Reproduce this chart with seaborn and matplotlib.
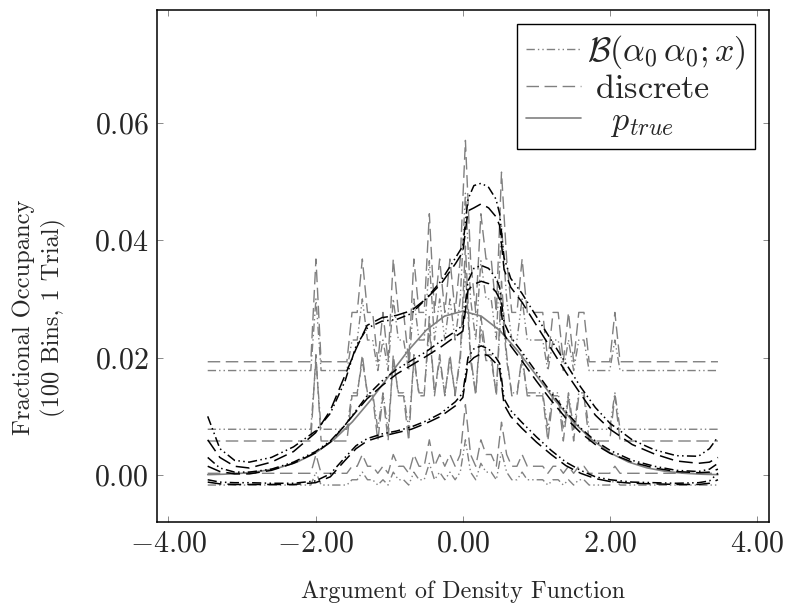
import numpy as np
import pandas as pd
import matplotlib
matplotlib.use("Agg")
import matplotlib.pyplot as plt
import seaborn as sns
from matplotlib.lines import Line2D
from matplotlib.ticker import FixedLocator, FixedFormatter

# ---------------- data ----------------
# 100 histogram bin centres (-3.465 ... 3.465)
bin_x = [round(-3.465 + 0.07 * i, 3) for i in range(100)]

counts = [0, 0, 0, 0, 0, 0, 0, 0, 0, 0,
          0, 0, 0, 0, 0, 0, 0, 0, 0, 0,
          0, 2, 0, 0, 0, 0, 0, 0, 1, 1,
          2, 1, 1, 0, 1, 0, 2, 1, 1, 0,
          2, 1, 1, 3, 1, 2, 1, 2, 1, 2,
          5, 2, 1, 3, 2, 2, 1, 4, 2, 1,
          1, 2, 1, 1, 1, 1, 0, 1, 1, 0,
          1, 0, 1, 1, 0, 0, 0, 0, 0, 1,
          0, 0, 0, 0, 0, 0, 0, 0, 0, 0,
          0, 0, 0, 0, 0, 0, 0, 0, 0, 0]

# fractional occupancy levels for a bin holding 0..5 counts
disc_upper = [0.0193, 0.0277, 0.0368, 0.0445, 0.0516, 0.0570]
disc_mid   = [0.0058, 0.0135, 0.0205, 0.0270, 0.0330, 0.0390]
disc_lower = [0.0003, 0.0015, 0.0035, 0.0060, 0.0090, 0.0120]
beta_upper = [0.0178, 0.0230, 0.0300, 0.0365, 0.0425, 0.0480]
beta_mid   = [0.0078, 0.0140, 0.0195, 0.0250, 0.0300, 0.0350]
beta_lower = [-0.0017, -0.0008, 0.0005, 0.0020, 0.0040, 0.0060]

# smooth (black) estimates
smooth_x = [-3.465, -3.3, -3.1, -2.9, -2.6, -2.3, -2.0, -1.8, -1.6, -1.45,
            -1.3, -1.1, -0.9, -0.7, -0.5, -0.3, -0.1, 0.0, 0.07, 0.15,
            0.25, 0.35, 0.45, 0.5, 0.56, 0.65, 0.8, 1.0, 1.2, 1.4,
            1.6, 1.8, 2.0, 2.3, 2.6, 2.9, 3.2, 3.35, 3.465]
upper_dd = [0.0100, 0.0045, 0.0025, 0.0022, 0.0030, 0.0048, 0.0075, 0.0105, 0.0160, 0.0220,
            0.0250, 0.0262, 0.0265, 0.0275, 0.0300, 0.0330, 0.0370, 0.0390, 0.0470, 0.0493,
            0.0497, 0.0490, 0.0470, 0.0445, 0.0370, 0.0335, 0.0310, 0.0270, 0.0230, 0.0190,
            0.0150, 0.0115, 0.0088, 0.0060, 0.0043, 0.0033, 0.0032, 0.0045, 0.0065]
upper_da = [0.0060, 0.0030, 0.0015, 0.0012, 0.0022, 0.0040, 0.0072, 0.0110, 0.0170, 0.0215,
            0.0255, 0.0268, 0.0272, 0.0280, 0.0300, 0.0325, 0.0360, 0.0380, 0.0450, 0.0455,
            0.0462, 0.0455, 0.0440, 0.0425, 0.0350, 0.0320, 0.0295, 0.0255, 0.0215, 0.0175,
            0.0138, 0.0102, 0.0078, 0.0052, 0.0036, 0.0024, 0.0020, 0.0022, 0.0030]
mid_dd   = [0.0030, 0.0012, 0.0005, 0.0005, 0.0010, 0.0022, 0.0040, 0.0058, 0.0085, 0.0110,
            0.0135, 0.0160, 0.0180, 0.0195, 0.0210, 0.0228, 0.0245, 0.0255, 0.0330, 0.0352,
            0.0357, 0.0352, 0.0335, 0.0320, 0.0260, 0.0235, 0.0210, 0.0175, 0.0140, 0.0108,
            0.0080, 0.0058, 0.0042, 0.0025, 0.0015, 0.0008, 0.0006, 0.0010, 0.0020]
mid_da   = [0.0015, 0.0006, 0.0002, 0.0002, 0.0008, 0.0020, 0.0038, 0.0056, 0.0085, 0.0108,
            0.0130, 0.0152, 0.0172, 0.0187, 0.0202, 0.0218, 0.0236, 0.0245, 0.0315, 0.0325,
            0.0330, 0.0326, 0.0312, 0.0300, 0.0240, 0.0220, 0.0195, 0.0160, 0.0127, 0.0097,
            0.0072, 0.0052, 0.0037, 0.0022, 0.0012, 0.0006, 0.0004, 0.0005, 0.0010]
lower_dd = [-0.0008, -0.0012, -0.0013, -0.0013, -0.0014, -0.0014, -0.0010, 0.0002, 0.0030, 0.0050,
            0.0062, 0.0070, 0.0075, 0.0082, 0.0092, 0.0105, 0.0125, 0.0140, 0.0200, 0.0215,
            0.0220, 0.0215, 0.0200, 0.0190, 0.0130, 0.0110, 0.0090, 0.0065, 0.0042, 0.0022,
            0.0008, -0.0003, -0.0008, -0.0012, -0.0013, -0.0014, -0.0013, -0.0010, 0.0003]
lower_da = [-0.0012, -0.0015, -0.0016, -0.0016, -0.0016, -0.0016, -0.0013, -0.0003, 0.0025, 0.0045,
            0.0058, 0.0066, 0.0072, 0.0078, 0.0088, 0.0100, 0.0118, 0.0132, 0.0190, 0.0200,
            0.0207, 0.0203, 0.0190, 0.0180, 0.0120, 0.0100, 0.0080, 0.0056, 0.0035, 0.0016,
            0.0003, -0.0006, -0.0011, -0.0014, -0.0015, -0.0016, -0.0016, -0.0014, -0.0008]

# true density (fraction per bin)
true_x = [-3.465, -3.25, -3.0, -2.75, -2.5, -2.25, -2.0, -1.75, -1.5, -1.25, -1.0, -0.75, -0.5,
          -0.25, 0.0, 0.25, 0.5, 0.75, 1.0, 1.25, 1.5, 1.75, 2.0, 2.25, 2.5, 2.75, 3.0, 3.25, 3.465]
true_y = [0.000069, 0.000142, 0.000310, 0.000637, 0.001227, 0.002222, 0.003779, 0.006040,
          0.009066, 0.012785, 0.016938, 0.021080, 0.024645, 0.027067, 0.027926, 0.027067,
          0.024645, 0.021080, 0.016938, 0.012785, 0.009066, 0.006040, 0.003779, 0.002222,
          0.001227, 0.000637, 0.000310, 0.000142, 0.000069]

x_ticks = [-4, -2, 0, 2, 4]
x_tick_labels = ["$-4.00$", "$-2.00$", "$0.00$", "$2.00$", "$4.00$"]
y_ticks = [0.0, 0.02, 0.04, 0.06]
y_tick_labels = ["$0.00$", "$0.02$", "$0.04$", "$0.06$"]

# ---------------- style ----------------
sns.set_style("white")
plt.rcParams["font.family"] = ["serif"]
plt.rcParams["font.serif"] = ["cmr10", "DejaVu Serif"]
plt.rcParams["mathtext.fontset"] = "cm"
plt.rcParams["axes.formatter.use_mathtext"] = True

GRAY = "#808080"
DASHED = (0, (9, 4))
DASHDOTDOT = (0, (6, 2.2, 1, 2.2, 1, 2.2))

fig = plt.figure(figsize=(7.87, 6.08), dpi=100)
ax = fig.add_axes([0.1991, 0.1414, 0.778, 0.8421])

def levels(table):
    return [table[k] for k in counts]

gray_series = [
    (disc_upper, DASHED), (disc_mid, DASHED), (disc_lower, DASHED),
    (beta_upper, DASHDOTDOT), (beta_mid, DASHDOTDOT), (beta_lower, DASHDOTDOT),
]
for table, ls in gray_series:
    df = pd.DataFrame({"x": bin_x, "y": levels(table)})
    sns.lineplot(data=df, x="x", y="y", ax=ax, color=GRAY, lw=1.0,
                 linestyle=ls, estimator=None, sort=False)

sns.lineplot(x=true_x, y=true_y, ax=ax, color=GRAY, lw=1.2,
             estimator=None, sort=False)

black_series = [
    (upper_dd, DASHDOTDOT), (upper_da, DASHED),
    (mid_dd, DASHDOTDOT), (mid_da, DASHED),
    (lower_dd, DASHDOTDOT), (lower_da, DASHED),
]
for vals, ls in black_series:
    sns.lineplot(x=smooth_x, y=vals, ax=ax, color="black", lw=1.1,
                 linestyle=ls, estimator=None, sort=False)

ax.set_xlim(-4.158, 4.158)
ax.set_ylim(-0.0080, 0.0792)

ax.xaxis.set_major_locator(FixedLocator(x_ticks))
ax.xaxis.set_major_formatter(FixedFormatter(x_tick_labels))
ax.yaxis.set_major_locator(FixedLocator(y_ticks))
ax.yaxis.set_major_formatter(FixedFormatter(y_tick_labels))
ax.tick_params(axis="both", which="major", direction="in", length=4.5, width=0.7,
               color="#8a8a8a", labelsize=21.5, pad=6,
               top=True, right=True, bottom=True, left=True)

for sp in ax.spines.values():
    sp.set_color("black")
    sp.set_linewidth(1.1)

ax.set_xlabel("Argument of Density Function", fontsize=17.3, labelpad=16)
ax.set_ylabel("Fractional Occupancy\n(100 Bins, 1 Trial)", fontsize=17.6,
              linespacing=1.3)
ax.yaxis.set_label_coords(-0.148, 0.40)

handles = [
    Line2D([], [], color=GRAY, lw=1.0, linestyle=DASHDOTDOT),
    Line2D([], [], color=GRAY, lw=1.0, linestyle=DASHED),
    Line2D([], [], color=GRAY, lw=1.2),
]
labels = [r"$\mathcal{B}(\alpha_0\,\alpha_0;x)$", r"$\;$discrete", r"$\;\;\;p_{true}$"]
leg = ax.legend(handles, labels, loc="upper right", fontsize=24.5, frameon=True,
                fancybox=False, edgecolor="black", framealpha=1,
                handlelength=1.6, handletextpad=0.18, labelspacing=0.08,
                borderpad=0.28, borderaxespad=0.4)
leg.get_frame().set_linewidth(1.0)

fig.savefig("out.png", dpi=100)
